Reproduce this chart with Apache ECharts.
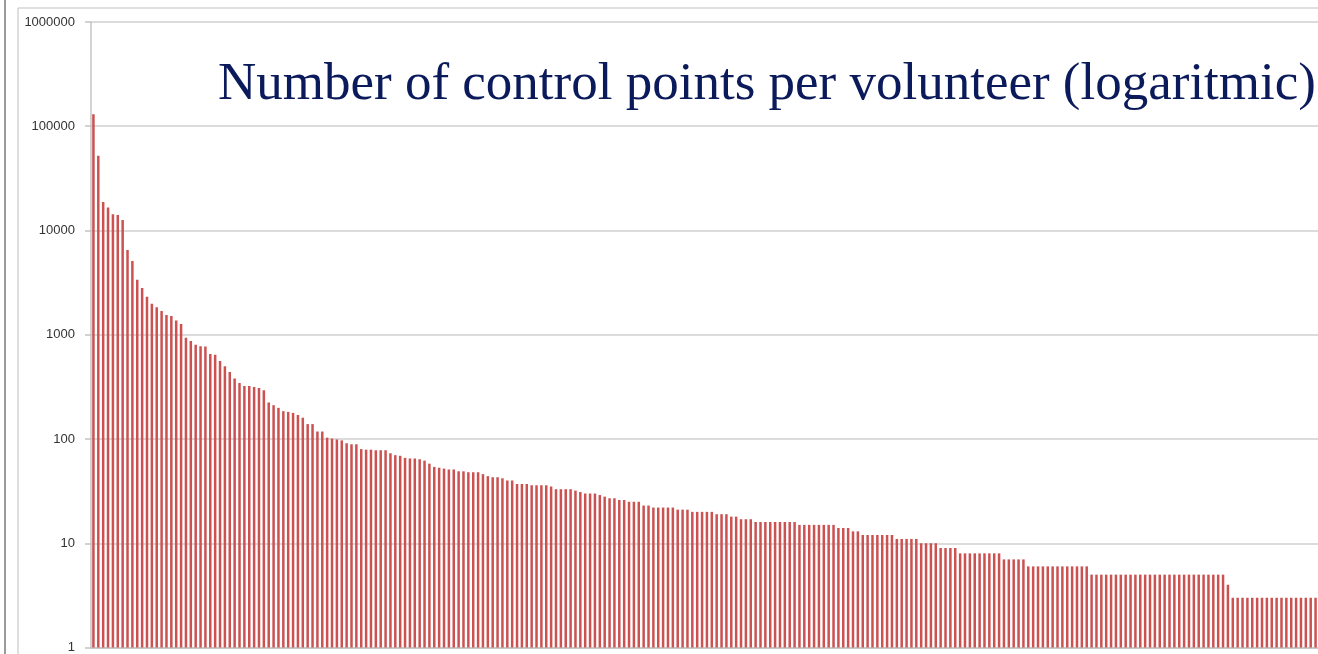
<!DOCTYPE html>
<html lang="en">
<head>
    <meta charset="UTF-8">
    <title>control_points_log</title>
    <style type="text/css">
        html, body {
            margin: 0;
            padding: 0;
            background: #fff;
        }
        #box {
            width: 1318px;
            height: 654px;
        }
    </style>
</head>
<body>
<div id="box"></div>
</body>
<script type="text/javascript" src="https://cdn.jsdelivr.net/npm/echarts@6.0.0/dist/echarts.min.js"></script>
<script type="text/javascript">
    // control points per volunteer, sorted
    let pointCounts = [
        130000, 52000, 18800, 16600, 14300, 14100, 12600, 6500, 5100, 3370,
        2810, 2320, 1980, 1840, 1690, 1550, 1510, 1370, 1270, 935,
        870, 800, 775, 770, 653, 644, 560, 500, 440, 380,
        345, 323, 323, 316, 309, 294, 224, 211, 199, 185,
        182, 178, 170, 160, 139, 139, 118, 118, 103, 101,
        99, 97, 91, 89, 89, 80, 79, 79, 78, 78,
        78, 73, 70, 69, 66, 65, 65, 64, 62, 58,
        54, 53, 52, 51, 51, 49, 49, 48, 48, 48,
        46, 44, 43, 43, 42, 40, 40, 37, 37, 37,
        36, 36, 36, 36, 35, 33, 33, 33, 33, 32,
        31, 30, 30, 30, 29, 28, 27, 27, 26, 26,
        25, 25, 25, 23, 23, 22, 22, 22, 22, 22,
        21, 21, 21, 20, 20, 20, 20, 20, 19, 19,
        19, 18, 18, 17, 17, 17, 16, 16, 16, 16,
        16, 16, 16, 16, 16, 15, 15, 15, 15, 15,
        15, 15, 15, 14, 14, 14, 13, 13, 12, 12,
        12, 12, 12, 12, 12, 11, 11, 11, 11, 11,
        10, 10, 10, 10, 9, 9, 9, 9, 8, 8,
        8, 8, 8, 8, 8, 8, 8, 7, 7, 7,
        7, 7, 6, 6, 6, 6, 6, 6, 6, 6,
        6, 6, 6, 6, 6, 5, 5, 5, 5, 5,
        5, 5, 5, 5, 5, 5, 5, 5, 5, 5,
        5, 5, 5, 5, 5, 5, 5, 5, 5, 5,
        5, 5, 5, 4, 3, 3, 3, 3, 3, 3,
        3, 3, 3, 3, 3, 3, 3, 3, 3, 3,
        3, 3
    ];
    let yTicks = [1, 10, 100, 1000, 10000, 100000, 1000000];
    let chartTitle = 'Number of control points per volunteer (logaritmic)';

    let volunteers = [];
    for (let i = 0; i < pointCounts.length; i++) {
        volunteers.push('V' + (i + 1));
    }

    function logEchart() {
        let myChart = echarts.init(document.getElementById('box'));
        let option = {
            animation: false,
            backgroundColor: '#fff',
            grid: {
                left: 91,
                right: 0,
                top: 22,
                bottom: 4
            },
            xAxis: {
                type: 'category',
                data: volunteers,
                boundaryGap: true,
                axisLine: {show: true, lineStyle: {color: '#c4c4c4', width: 1.5}},
                axisTick: {show: false},
                axisLabel: {show: false},
                splitLine: {show: false}
            },
            yAxis: {
                type: 'log',
                logBase: 10,
                min: yTicks[0],
                max: yTicks[yTicks.length - 1],
                axisLine: {show: true, lineStyle: {color: '#c4c4c4', width: 1.5}},
                axisTick: {show: true, length: 6, lineStyle: {color: '#c4c4c4', width: 1.5}},
                axisLabel: {
                    margin: 16,
                    color: '#333',
                    fontSize: 13,
                    fontFamily: 'Liberation Sans',
                    formatter: function (v) {
                        return String(Math.round(v));
                    }
                },
                splitLine: {show: true, lineStyle: {color: '#cfcfcf', width: 1.5}}
            },
            graphic: [
                {type: 'line', shape: {x1: 5, y1: 0, x2: 5, y2: 654}, style: {stroke: '#9a9a9a', lineWidth: 2}},
                {type: 'line', shape: {x1: 18, y1: 8, x2: 18, y2: 654}, style: {stroke: '#d4d4d4', lineWidth: 1.5}},
                {type: 'line', shape: {x1: 18, y1: 8, x2: 1318, y2: 8}, style: {stroke: '#d4d4d4', lineWidth: 1.5}},
                {
                    type: 'text',
                    x: 218,
                    y: 59,
                    style: {
                        text: chartTitle,
                        font: '53px "Liberation Serif"',
                        fill: '#0b1a5a',
                        textVerticalAlign: 'top'
                    }
                }
            ],
            series: [
                {
                    name: 'control points',
                    type: 'bar',
                    data: pointCounts,
                    barWidth: 2.5,
                    itemStyle: {color: '#cc5252'}
                }
            ]
        };
        myChart.setOption(option);
    }

    logEchart();
</script>
</html>
